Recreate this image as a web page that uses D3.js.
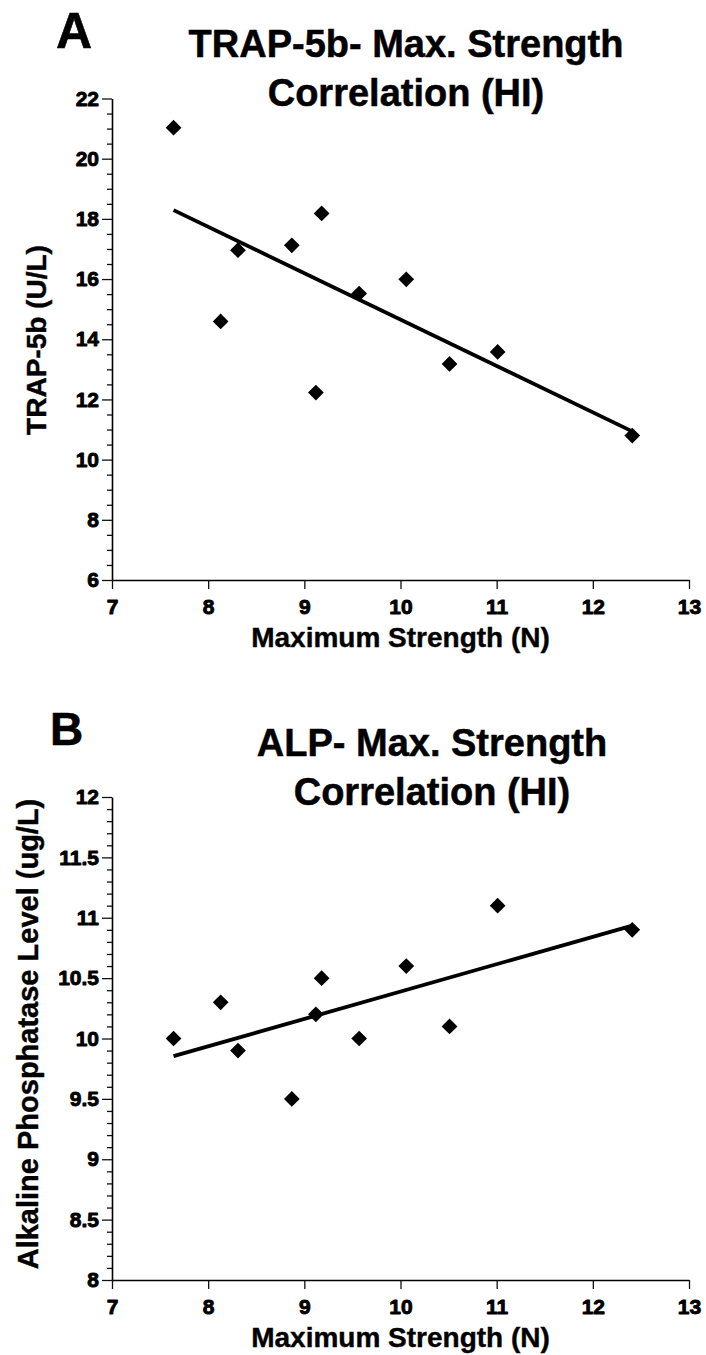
<!DOCTYPE html>
<html>
<head>
<meta charset="utf-8">
<script src="https://cdn.jsdelivr.net/npm/d3@7"></script>
<style>
  html, body { margin: 0; padding: 0; background: #fff; }
  svg { display: block; }
  text { font-family: "Liberation Sans", Arial, Helvetica, sans-serif; font-weight: bold; fill: #000; }
</style>
</head>
<body>
<svg id="chart" width="706" height="1355"></svg>
<script>
// ---- Data ----
const maxStrength = [7.64, 8.13, 8.31, 8.87, 9.12, 9.18, 9.57, 10.06, 10.51, 11.01, 12.41];
const trap5b      = [21.03, 14.59, 16.96, 17.12, 12.23, 18.18, 15.52, 15.99, 13.18, 13.58, 10.80];
const alp         = [10.0, 10.3, 9.9, 9.5, 10.2, 10.5, 10.0, 10.6, 10.1, 11.1, 10.9];

const xTicks      = [7, 8, 9, 10, 11, 12, 13];
const trapTicks   = [6, 8, 10, 12, 14, 16, 18, 20, 22];
const alpTicks    = [8, 8.5, 9, 9.5, 10, 10.5, 11, 11.5, 12];

const panelLetters = ["A", "B"];
const titlesA = ["TRAP-5b- Max. Strength", "Correlation (HI)"];
const titlesB = ["ALP- Max. Strength", "Correlation (HI)"];
const yLabelA = "TRAP-5b (U/L)";
const yLabelB = "Alkaline Phosphatase Level (ug/L)";
const xLabel  = "Maximum Strength (N)";

const FONT = "'Liberation Sans', Arial, Helvetica, sans-serif";

// ---- Helpers ----
function linreg(xs, ys) {
  const mx = d3.mean(xs), my = d3.mean(ys);
  let sxy = 0, sxx = 0;
  xs.forEach((x, i) => { sxy += (x - mx) * (ys[i] - my); sxx += (x - mx) * (x - mx); });
  const b = sxy / sxx;
  return { slope: b, intercept: my - b * mx };
}
function range(a, b, step) {
  const out = [];
  const n = Math.round((b - a) / step);
  for (let i = 0; i <= n; i++) out.push(+(a + i * step).toFixed(4));
  return out;
}

const svg = d3.select("#chart");

function heavy(sel, w) {
  sel.attr("stroke", "#000").attr("stroke-width", w).attr("stroke-linejoin", "round");
}

function styleTickText(s) {
  s.selectAll("text")
    .attr("font-size", 21)
    .attr("font-family", FONT)
    .attr("font-weight", "bold")
    .attr("fill", "#000")
    .call(heavy, 0.9);
}

function drawPanel(cfg) {
  const g = svg.append("g");
  const x = d3.scaleLinear().domain([7, 13]).range([112, 689]);
  const y = d3.scaleLinear().domain(cfg.yDomain).range([cfg.bottom, cfg.top]);

  // minor y ticks
  const minorVals = range(cfg.yDomain[0], cfg.yDomain[1], cfg.minorStep)
    .filter(v => !cfg.yTicks.some(t => Math.abs(t - v) < 1e-6));
  g.append("g")
    .attr("transform", "translate(112,0)")
    .call(d3.axisLeft(y).tickValues(minorVals).tickSize(5).tickSizeOuter(0).tickFormat(""))
    .call(s => s.select(".domain").remove())
    .call(s => s.selectAll("line").attr("stroke", "#111").attr("stroke-width", 1.3));

  // major y axis
  g.append("g")
    .attr("transform", "translate(112,0)")
    .call(d3.axisLeft(y).tickValues(cfg.yTicks).tickSize(10).tickSizeOuter(0).tickPadding(3).tickFormat(d => String(d)))
    .call(s => s.select(".domain").attr("stroke", "#000").attr("stroke-width", 1.6))
    .call(s => s.selectAll("line").attr("stroke", "#111").attr("stroke-width", 1.3))
    .call(styleTickText);

  // x axis
  g.append("g")
    .attr("transform", `translate(0,${cfg.bottom})`)
    .call(d3.axisBottom(x).tickValues(xTicks).tickSize(9).tickSizeOuter(0).tickPadding(10).tickFormat(d => String(d)))
    .call(s => s.select(".domain").attr("stroke", "#000").attr("stroke-width", 1.6))
    .call(s => s.selectAll("line").attr("stroke", "#111").attr("stroke-width", 1.3))
    .call(styleTickText);

  // regression line
  const r = linreg(maxStrength, cfg.values);
  const x0 = d3.min(maxStrength), x1 = d3.max(maxStrength);
  const line = d3.line().x(d => x(d[0])).y(d => y(d[1]));
  g.append("path")
    .attr("d", line([[x0, r.intercept + r.slope * x0], [x1, r.intercept + r.slope * x1]]))
    .attr("stroke", "#000").attr("stroke-width", 3.8).attr("fill", "none");

  // diamond markers
  const sym = d3.symbol().type(d3.symbolSquare).size(124);
  g.selectAll("path.pt")
    .data(maxStrength.map((v, i) => [v, cfg.values[i]]))
    .join("path")
    .attr("class", "pt")
    .attr("d", sym)
    .attr("transform", d => `translate(${x(d[0])},${y(d[1])}) rotate(45)`)
    .attr("fill", "#000");

  // y label
  g.append("text")
    .attr("transform", `translate(${cfg.yLabelX},${cfg.yLabelY}) rotate(-90)`)
    .attr("text-anchor", "middle")
    .attr("font-size", cfg.yLabelSize)
    .call(heavy, 0.4)
    .text(cfg.yLabel);

  // x label
  g.append("text")
    .attr("x", 400.5).attr("y", cfg.bottom + 67)
    .attr("text-anchor", "middle")
    .attr("font-size", 28)
    .call(heavy, 0.4)
    .text(xLabel);

  // title
  cfg.titles.forEach((t, i) => {
    g.append("text")
      .attr("x", cfg.titleX).attr("y", cfg.titleY + i * 49)
      .attr("text-anchor", "middle")
      .attr("font-size", 38)
      .call(heavy, 0.5)
      .text(t);
  });

  // panel letter
  g.append("text")
    .attr("x", cfg.letterX).attr("y", cfg.letterY)
    .attr("font-size", cfg.letterSize)
    .call(heavy, 0.6)
    .text(cfg.letter);
}

drawPanel({
  values: trap5b, yDomain: [6, 22], yTicks: trapTicks, minorStep: 0.5,
  top: 98.5, bottom: 580, yLabel: yLabelA, yLabelX: 46, yLabelY: 340, yLabelSize: 28,
  titles: titlesA, titleX: 406, titleY: 57,
  letter: panelLetters[0], letterX: 56, letterY: 48, letterSize: 50
});

drawPanel({
  values: alp, yDomain: [8, 12], yTicks: alpTicks, minorStep: 0.1,
  top: 797, bottom: 1280, yLabel: yLabelB, yLabelX: 38, yLabelY: 1034, yLabelSize: 29,
  titles: titlesB, titleX: 432, titleY: 756,
  letter: panelLetters[1], letterX: 50, letterY: 745, letterSize: 46
});
</script>
</body>
</html>
